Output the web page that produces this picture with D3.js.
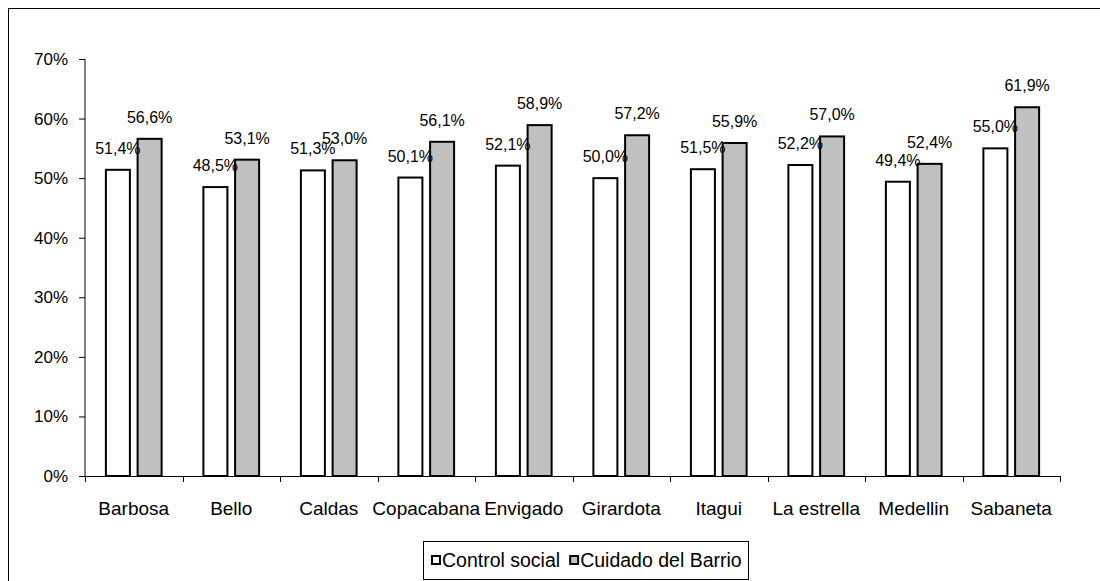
<!DOCTYPE html>
<html>
<head>
<meta charset="utf-8">
<script src="https://cdn.jsdelivr.net/npm/d3@7"></script>
<style>
  html, body { margin: 0; padding: 0; background: #fff; }
  svg { display: block; font-family: Arial, "Liberation Sans", sans-serif; }
</style>
</head>
<body>
<svg id="chart" width="1100" height="581"></svg>
<script>
// Municipalities on the horizontal axis
const categories = ["Barbosa", "Bello", "Caldas", "Copacabana", "Envigado",
                    "Girardota", "Itagui", "La estrella", "Medellin", "Sabaneta"];
// Series names and their values (percent)
const seriesNames = ["Control social", "Cuidado del Barrio"];
const controlSocial = [51.4, 48.5, 51.3, 50.1, 52.1, 50.0, 51.5, 52.2, 49.4, 55.0];
const cuidadoBarrio = [56.6, 53.1, 53.0, 56.1, 58.9, 57.2, 55.9, 57.0, 52.4, 61.9];
// Value axis ticks
const yTicks = [0, 10, 20, 30, 40, 50, 60, 70];

const seriesValues = [controlSocial, cuidadoBarrio];
const seriesFill = ["#ffffff", "#c0c0c0"];

const svg = d3.select("#chart");

// outer frame
svg.append("rect")
  .attr("x", 8.5).attr("y", 8.5)
  .attr("width", 1100).attr("height", 600)
  .attr("fill", "none").attr("stroke", "#000").attr("stroke-width", 1);

const plot = { left: 85, right: 1060, top: 59, bottom: 476 };

const x = d3.scaleBand()
  .domain(categories)
  .range([plot.left, plot.right])
  .paddingInner(0.408)
  .paddingOuter(0.204);

const xs = d3.scaleBand()
  .domain(d3.range(seriesNames.length))
  .range([0, x.bandwidth()])
  .paddingInner(0.18);

const y = d3.scaleLinear().domain([0, 70]).range([plot.bottom, plot.top]);

// y axis
const yAxis = svg.append("g")
  .attr("transform", `translate(${plot.left},0)`)
  .call(d3.axisLeft(y).tickValues(yTicks).tickSize(6).tickPadding(11)
        .tickFormat(d => d + "%"));
yAxis.select(".domain").attr("stroke", "#000").attr("d", `M-0.5,${plot.top}V${plot.bottom}`).attr("transform", "translate(0.5,0)");
yAxis.selectAll(".tick line").attr("stroke", "#000");
yAxis.selectAll(".tick text")
  .attr("font-size", 17).attr("fill", "#000")
  .attr("font-family", "Arial, 'Liberation Sans', sans-serif");

// x axis: line plus ticks at category boundaries
const step = x.step();
const boundaries = categories.map(c => x(c) - (step - x.bandwidth()) / 2)
  .concat([plot.right]);
svg.append("line")
  .attr("x1", plot.left).attr("x2", plot.right)
  .attr("y1", plot.bottom + 0.5).attr("y2", plot.bottom + 0.5)
  .attr("stroke", "#000");
svg.selectAll(".xtick").data(boundaries).join("line")
  .attr("class", "xtick")
  .attr("x1", d => Math.round(d) + 0.5).attr("x2", d => Math.round(d) + 0.5)
  .attr("y1", plot.bottom).attr("y2", plot.bottom + 6)
  .attr("stroke", "#000");
svg.selectAll(".xlabel").data(categories).join("text")
  .attr("class", "xlabel")
  .attr("x", d => x(d) + x.bandwidth() / 2)
  .attr("y", 515)
  .attr("text-anchor", "middle")
  .attr("font-size", 19)
  .text(d => d);

// bars
const groups = svg.selectAll(".cat").data(categories).join("g")
  .attr("class", "cat")
  .attr("transform", d => `translate(${x(d)},0)`);

seriesValues.forEach((vals, si) => {
  groups.append("rect")
    .attr("x", xs(si) + 1)
    .attr("y", (d, i) => y(vals[i]))
    .attr("width", xs.bandwidth() - 2)
    .attr("height", (d, i) => y(0) - y(vals[i]))
    .attr("fill", seriesFill[si])
    .attr("stroke", "#000")
    .attr("stroke-width", 2);
});

// value labels
seriesValues.forEach((vals, si) => {
  groups.append("text")
    .attr("x", xs(si) + xs.bandwidth() / 2)
    .attr("y", (d, i) => y(vals[i]) - 16)
    .attr("text-anchor", "middle")
    .attr("font-size", 16)
    .text((d, i) => vals[i].toFixed(1).replace(".", ",") + "%");
});

// legend
const legend = svg.append("g");
legend.append("rect")
  .attr("x", 423.5).attr("y", 541.5)
  .attr("width", 325).attr("height", 38)
  .attr("fill", "#fff").attr("stroke", "#000");
let lx = 431;
seriesNames.forEach((name, si) => {
  legend.append("rect")
    .attr("x", lx + 1).attr("y", 556)
    .attr("width", 8).attr("height", 8)
    .attr("fill", seriesFill[si]).attr("stroke", "#000").attr("stroke-width", 2);
  const t = legend.append("text")
    .attr("x", lx + 11).attr("y", 567)
    .attr("font-size", 19.5)
    .text(name);
  lx = lx + 11 + t.node().getComputedTextLength() + 9;
});
</script>
</body>
</html>
